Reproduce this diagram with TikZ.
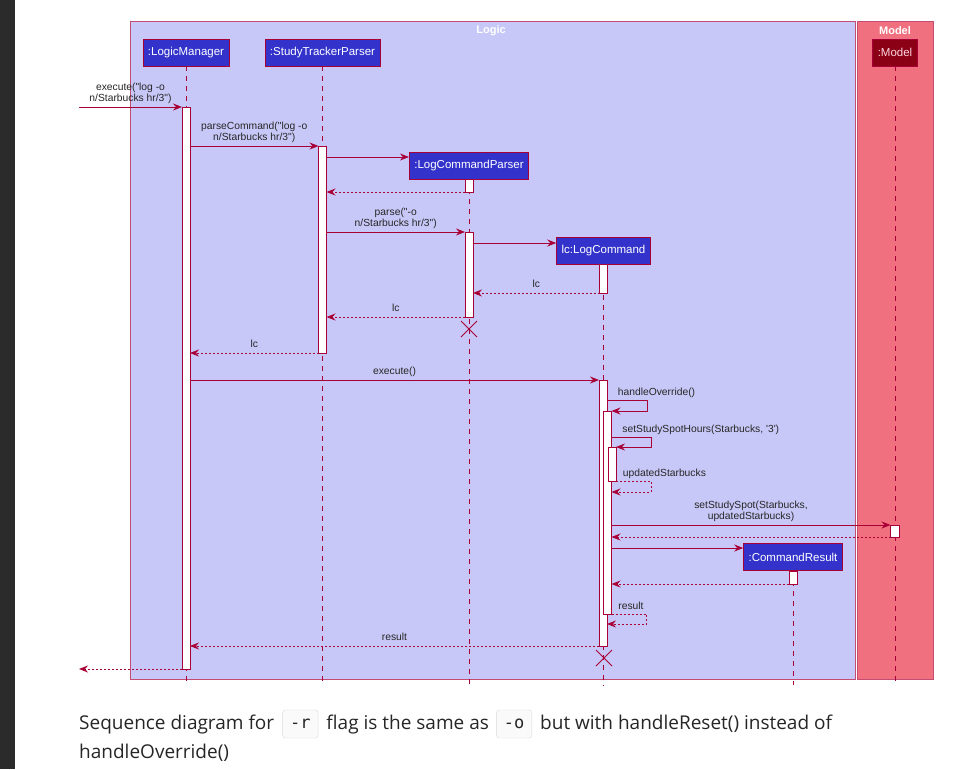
\documentclass[tikz,border=0pt]{standalone}
\usepackage{fontspec}
\newfontfamily\umlfont{Liberation Sans}
\newfontfamily\capfont{Open Sans}
\newfontfamily\codefont{DejaVu Sans Mono}
\usetikzlibrary{arrows.meta,positioning,shapes.misc}
\definecolor{umlred}{RGB}{168,0,54}
\definecolor{partblue}{RGB}{51,51,204}
\definecolor{modelpart}{RGB}{140,0,22}
\definecolor{logicfill}{RGB}{200,200,248}
\definecolor{modelfill}{RGB}{240,112,128}
\definecolor{darkstrip}{RGB}{43,43,43}
\tikzset{
  part/.style={draw=umlred, fill=partblue, text=white, font=\umlfont\fontsize{11.5}{13}\selectfont,
    minimum height=27pt, inner xsep=5pt, inner ysep=0pt, line width=0.8pt},
  actbar/.style={draw=umlred, fill=white, minimum width=8pt, inner sep=0pt, outer sep=0pt,
    anchor=north, line width=0.8pt},
  life/.style={umlred, dash pattern=on 5pt off 5pt, line width=0.8pt},
  msg/.style={umlred, line width=0.8pt, -{Stealth[length=9pt,width=7pt,inset=3pt]}},
  ret/.style={msg, dash pattern=on 2pt off 2pt},
  lbl/.style={font=\umlfont\fontsize{10.3}{11.5}\selectfont, text=black!85, inner sep=1.5pt, align=center},
  retlbl/.style={lbl, text depth=2.5pt},
  groupline/.style={draw=umlred!70, line width=0.8pt},
  grouptitle/.style={font=\umlfont\bfseries\fontsize{11}{13}\selectfont, text=white},
  killmark/.style={draw=umlred, cross out, minimum size=15pt, inner sep=0pt, line width=1pt},
  captxt/.style={font=\capfont\fontsize{19}{23}\selectfont, text=black!85, inner sep=0pt,
    text height=14pt, text depth=4pt},
  codebox/.style={draw=black!14, fill=black!2, rounded corners=3pt, font=\codefont\fontsize{17}{20}\selectfont,
    text=black!85, minimum height=28pt, inner xsep=7.5pt, inner ysep=0pt},
}
\begin{document}
\begin{tikzpicture}[x=1pt,y=-1pt]
\useasboundingbox (0,0) rectangle (980,769);
% page strip and the two boxes
\fill[darkstrip] (0,0) rectangle (15,769);
\draw[groupline, fill=logicfill] (130,21) rectangle (855,679);
\draw[groupline, fill=modelfill] (857,21) rectangle (933,679);
\node[grouptitle] (logicT) at (491,31) {Logic};
\node[grouptitle] (modelT) at (895,31) {Model};

% participants
\node[part] (lm) at (186,52.5) {:LogicManager};
\node[part] (stp) at (322.5,52.5) {:StudyTrackerParser};
\node[part] (lcp) at (469,165.5) {:LogCommandParser};
\node[part] (lcmd) at (603.5,251) {lc:LogCommand};
\node[part] (cr) at (793,557) {:CommandResult};
\node[part, fill=modelpart, text={rgb,255:red,255;green,215;blue,225}] (mdl) at (895,52.5) {:Model};

% lifelines
\foreach \p in {lm,stp,lcp,lcmd,cr,mdl}
  \draw[life] (\p.south) -- (\p.south |- 0,685);

% activation bars
\node[actbar, minimum height=562pt] (lmA) at (186,107) {};
\node[actbar, minimum height=207pt] (stpA) at (322.5,146) {};
\node[actbar, minimum height=13pt] (lcpA) at (469,179) {};
\node[actbar, minimum height=85pt] (lcpB) at (469,232) {};
\node[actbar, minimum height=29pt] (lcmdA) at (603.5,264) {};
\node[actbar, minimum height=266pt] (lcmdB) at (603,380) {};
\node[actbar, minimum height=203pt] (lcmdC) at (607.5,411) {};
\node[actbar, minimum height=34pt] (lcmdD) at (612,447) {};
\node[actbar, minimum height=12pt, minimum width=9pt] (mdlA) at (895,525) {};
\node[actbar, minimum height=13pt] (crA) at (793,571) {};

\node[killmark] (lcpX) at (469,329) {};
\node[killmark] (lcmdX) at (604,658) {};

% messages
\coordinate (entry) at (79,107);
\coordinate (exit) at (79,669);
\draw[msg] (entry) -- node[lbl, above=1pt] {execute("log -o\\n/Starbucks hr/3")} (lmA.west |- entry);
\draw[msg] (lmA.east |- 0,146) -- node[lbl, above=1pt] {parseCommand("log -o\\n/Starbucks hr/3")} (stpA.west |- 0,146);
\draw[msg] (stpA.east |- 0,157) -- (lcp.west |- 0,157);
\draw[ret] (lcpA.south west) -- (stpA.east |- lcpA.south west);
\draw[msg] (stpA.east |- 0,232) -- node[lbl, above=1pt] {parse("-o\\n/Starbucks hr/3")} (lcpB.north west);
\draw[msg] (lcpB.east |- 0,243) -- (lcmd.west |- 0,243);
\draw[ret] (lcmdA.south west) -- node[retlbl, above=1pt] {lc} (lcpB.east |- lcmdA.south west);
\draw[ret] (lcpB.south west) -- node[retlbl, above=1pt] {lc} (stpA.east |- lcpB.south west);
\draw[ret] (stpA.south west) -- node[retlbl, above=1pt] {lc} (lmA.east |- stpA.south west);
\draw[msg] (lmA.east |- 0,380) -- node[retlbl, above=1pt] {execute()} (lcmdB.north west);
\draw[msg] (lcmdB.east |- 0,400) node[retlbl, above right, xshift=9pt] {handleOverride()}
  -- ++(40,0) -- ++(0,11) -- (lcmdC.north east);
\draw[msg] (lcmdC.east |- 0,437) node[retlbl, above right, xshift=9pt] {setStudySpotHours(Starbucks, '3')}
  -- ++(40,0) -- ++(0,10) -- (lcmdD.north east);
\draw[ret] (lcmdD.south east) node[retlbl, above right, xshift=5pt] {updatedStarbucks}
  -- ++(35,0) -- ++(0,11) -- (lcmdC.east |- 0,492);
\draw[msg] (lcmdC.east |- 0,525) -- node[lbl, above=1pt] {setStudySpot(Starbucks,\\updatedStarbucks)} (mdlA.north west);
\draw[ret] (mdlA.south west) -- (lcmdC.east |- mdlA.south west);
\draw[msg] (lcmdC.east |- 0,548) -- (cr.west |- 0,548);
\draw[ret] (crA.south west) -- (lcmdC.east |- crA.south west);
\draw[ret] (lcmdC.south east) node[retlbl, above right, xshift=5pt] {result}
  -- ++(35,0) -- ++(0,10) -- (lcmdB.east |- 0,624);
\draw[ret] (lcmdB.south west) -- node[retlbl, above=1pt] {result} (lmA.east |- lcmdB.south west);
\draw[ret] (lmA.south west) -- (exit);

% caption below the diagram
\node[captxt, anchor=base west] (capA) at (79,729) {Sequence diagram for};
\node[codebox, right=8pt of capA] (codeR) {-r};
\node[captxt, right=8pt of codeR] (capB) {flag is the same as};
\node[codebox, right=7pt of capB] (codeO) {-o};
\node[captxt, right=8pt of codeO] (capC) {but with handleReset() instead of};
\node[captxt, anchor=base west] (capD) at (79,758) {handleOverride()};
\end{tikzpicture}
\end{document}
